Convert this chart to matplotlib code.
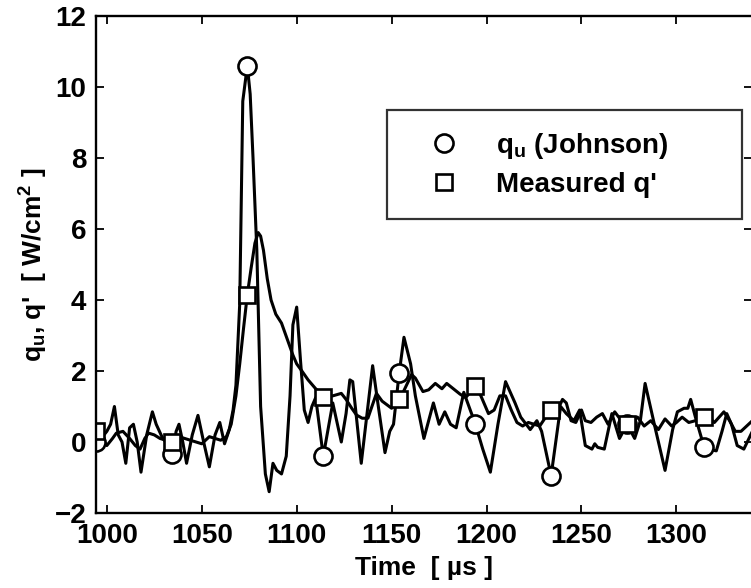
"""q_u (Johnson) vs measured q' time trace."""

import matplotlib
matplotlib.use("Agg")
import matplotlib.pyplot as plt
import numpy as np

johnson_t = [994.5, 997, 1000, 1002, 1004, 1006, 1008, 1010, 1012, 1014, 1016, 1018,
             1021, 1024, 1026, 1029, 1031, 1034.5, 1036.5, 1038, 1040, 1042, 1045, 1048,
             1051, 1054, 1057, 1059.5, 1062, 1064.5, 1066.5, 1068, 1070, 1071.6, 1074,
             1075.5, 1077, 1079, 1081, 1083.5, 1085.5, 1087.5, 1089.5, 1092, 1094.5,
             1096.5, 1098, 1100, 1102, 1104, 1106, 1108, 1110, 1114, 1119, 1123.5, 1126,
             1128, 1129.5, 1134, 1140, 1143, 1146.5, 1149, 1151, 1154, 1156.5, 1160,
             1162.5, 1167, 1172, 1175, 1178, 1181, 1184, 1188, 1194, 1198, 1202, 1206,
             1210, 1212.5, 1215, 1218, 1223, 1226.5, 1229, 1234, 1239, 1242, 1246, 1249,
             1252, 1255.5, 1257, 1258.5, 1262, 1266, 1270, 1274, 1278, 1281, 1283.5,
             1289, 1294, 1298, 1300.5, 1304, 1306, 1307.5, 1310, 1314.5, 1317, 1321,
             1324, 1326.5, 1329, 1332, 1335.5, 1340]
johnson_q = [0.0, 0.1, 0.3, 0.5, 1.0, 0.2, 0.0, -0.6, 0.4, 0.5, 0.0, -0.85,
             0.2, 0.85, 0.5, 0.15, 0.0, -0.35, 0.3, 0.5, 0.0, -0.6, 0.2, 0.75,
             0.0, -0.7, 0.2, 0.55, -0.05, 0.35, 0.9, 1.6, 3.9, 9.6, 10.6,
             9.8, 8.0, 5.4, 1.0, -0.9, -1.4, -0.6, -0.8, -0.9, -0.4,
             1.3, 3.3, 3.8, 2.3, 0.9, 0.55, 1.0, 1.25, -0.4, 1.1, 0.0, 0.8,
             1.75, 1.7, -0.6, 2.15, 1.0, -0.3, 0.3, 0.5, 1.95, 2.95, 2.2,
             1.3, 0.1, 1.1, 0.5, 0.85, 0.5, 0.4, 1.4, 0.52, -0.2, -0.85, 0.5,
             1.7, 1.4, 1.1, 0.7, 0.35, 0.6, 0.3, -0.95, 1.0, 0.8, 0.6, 0.9,
             -0.1, -0.2, -0.05, -0.15, -0.2, 0.8, 0.1, 0.5, 0.1, 0.6, 1.65,
             0.35, -0.8, 0.35, 0.85, 0.95, 0.95, 1.2, 0.7, -0.13, -0.2, -0.25,
             0.3, 0.8, 0.5, -0.1, -0.2, 0.3]

measured_t = [994.5, 997, 1000, 1003, 1005, 1008.5, 1012, 1015, 1017.5, 1020, 1022,
              1025, 1028, 1031, 1034.5, 1038, 1041, 1044, 1047, 1050, 1054, 1057,
              1060, 1063, 1065.5, 1068, 1070, 1072, 1074, 1076, 1078, 1079.7, 1081,
              1082.5, 1084.5, 1086.5, 1089, 1092, 1095, 1098, 1100, 1103, 1106, 1110,
              1114, 1119, 1123.5, 1126, 1129, 1131.5, 1134.5, 1137.5, 1142, 1145,
              1147.5, 1150, 1154, 1156.5, 1160.5, 1162.5, 1166.5, 1169.5, 1173,
              1176.5, 1179, 1182.5, 1186, 1189, 1194, 1197, 1201, 1204, 1207, 1210,
              1213, 1216, 1219, 1222, 1225, 1228, 1230.5, 1234, 1237, 1240, 1242,
              1244.5, 1247, 1250, 1252, 1255, 1258, 1261, 1264, 1267.5, 1271, 1274,
              1277, 1279.5, 1283, 1286.5, 1290.5, 1294, 1297.5, 1300, 1303, 1306.5,
              1310, 1314.5, 1317, 1320, 1325, 1328, 1331, 1334, 1337, 1340]
measured_q = [0.3, 0.15, -0.1, 0.1, 0.25, 0.3, 0.1, -0.1, -0.2, 0.1, 0.25,
              0.2, 0.1, 0.05, 0.0, 0.15, 0.1, 0.05, 0.0, -0.05, 0.15, 0.1,
              0.05, 0.15, 0.5, 1.3, 2.2, 3.2, 4.15, 4.9, 5.6, 5.9, 5.8,
              5.4, 4.6, 4.0, 3.6, 3.35, 2.9, 2.45, 2.2, 1.98, 1.75, 1.5,
              1.28, 1.3, 1.37, 1.2, 0.95, 0.76, 0.67, 0.67, 1.37, 1.15,
              1.05, 0.95, 1.2, 1.45, 1.9, 1.8, 1.42, 1.47, 1.65,
              1.5, 1.65, 1.5, 1.35, 1.25, 1.57, 1.3, 0.8, 0.9, 1.3, 1.3,
              0.9, 0.55, 0.45, 0.55, 0.5, 0.45, 0.65, 0.9, 0.85, 1.2, 1.1,
              0.6, 0.55, 0.9, 0.6, 0.55, 0.7, 0.8, 0.5, 0.85, 0.6, 0.52,
              0.6, 0.7, 0.45, 0.6, 0.35, 0.65, 0.45, 0.55, 0.7, 0.55,
              0.6, 0.7, 0.7, 0.55, 0.85, 0.6, 0.3, 0.3, 0.45, 0.6]

# marker times (every 40 us)
marker_t = [994.5, 1034.5, 1074, 1114, 1154, 1194, 1234, 1274, 1314.5]

xticks = [1000, 1050, 1100, 1150, 1200, 1250, 1300]
yticks = [-2, 0, 2, 4, 6, 8, 10, 12]

plt.rcParams["font.family"] = ["Liberation Sans", "DejaVu Sans"]
plt.rcParams["font.weight"] = "bold"
plt.rcParams["mathtext.fontset"] = "custom"
plt.rcParams["mathtext.rm"] = "Liberation Sans:bold"
plt.rcParams["mathtext.default"] = "rm"

fig = plt.figure(figsize=(7.51, 5.88), dpi=100)
ax = fig.add_axes([96 / 751, 75 / 588, 656 / 751, 497 / 588])

ax.plot(johnson_t, johnson_q, color="black", lw=2.2, solid_joinstyle="round")
ax.plot(measured_t, measured_q, color="black", lw=2.2, solid_joinstyle="round")

circ_q = np.interp(marker_t, johnson_t, johnson_q)
sq_q = np.interp(marker_t, measured_t, measured_q)
h1, = ax.plot(marker_t, circ_q, "o", ms=13, mfc="white", mec="black", mew=1.9,
              label=r"q$_{u}$ (Johnson)")
h2, = ax.plot(marker_t, sq_q, "s", ms=11, mfc="white", mec="black", mew=1.9,
              label="Measured q'")

ax.set_xlim(994.3, 1339.8)
ax.set_ylim(-2, 12)
ax.set_xticks(xticks)
ax.set_yticks(yticks)
ax.tick_params(direction="in", length=6, width=1.3, top=True, right=True,
               labelsize=20, pad=7)
for s in ax.spines.values():
    s.set_linewidth(1.7)

ax.set_xlabel("Time  [ µs ]", fontsize=19, fontweight="bold", labelpad=5)
ax.set_ylabel(r"q$_{u}$, q'  [ W/cm$^{2}$ ]", fontsize=19, fontweight="bold",
              labelpad=3)

leg = ax.legend(handles=[h1, h2], loc="upper left", mode="expand",
                bbox_to_anchor=(0.443, 0.606, 0.542, 0.205),
                fontsize=20, frameon=True, fancybox=False, borderpad=0.75,
                handlelength=2.6, handletextpad=0.6, labelspacing=0.4,
                borderaxespad=0)
leg.get_frame().set_edgecolor("black")
leg.get_frame().set_linewidth(1.6)

fig.savefig("out.png", dpi=100)
